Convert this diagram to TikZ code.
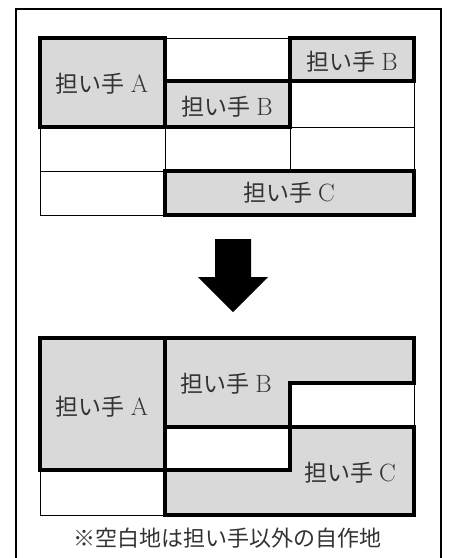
\documentclass[tikz,border=0pt]{standalone}
\usepackage{fontspec}
\newfontfamily\cjk{Noto Sans CJK JP}
\newcommand{\lab}[1]{{\cjk\fontsize{23}{26}\selectfont 担い手}\hspace{6pt}{\fontsize{25}{26}\selectfont #1}}
\begin{document}
\begin{tikzpicture}[x=1pt,y=-1pt,
  thinline/.style={draw=black,line width=1pt},
  thickline/.style={draw=black,line width=3.3pt,line join=miter},
  plot/.style={fill=gray!30},
  lbl/.style={text=black!80, inner sep=0pt},
  note/.style={font=\cjk\fontsize{22}{24}\selectfont, text=black!80, inner sep=0pt}]
\useasboundingbox (0,0) rectangle (449,558);
% frame
\draw[line width=1.3pt] (16,562) -- (16,9) -- (441,9) -- (441,562);
% ---------- top grid ----------
\draw[thinline] (165,38) rectangle (290,81);
\draw[thinline] (290,81) rectangle (414,127);
\draw[thinline] (40,127) rectangle (165,171);
\draw[thinline] (165,127) rectangle (290,171);
\draw[thinline] (290,127) rectangle (414,171);
\draw[thinline] (40,171) rectangle (165,215);
\path[plot] (40,38) rectangle (165,127);
\path[plot] (290,38) rectangle (414,81);
\path[plot] (165,81) rectangle (290,127);
\path[plot] (165,171) rectangle (414,215);
\draw[thickline] (40,38) rectangle (165,127);
\draw[thickline] (290,38) rectangle (414,81);
\draw[thickline] (165,81) rectangle (290,127);
\draw[thickline] (165,171) rectangle (414,215);
\node[lbl] (tA) at (102,84) {\lab{A}};
\node[lbl] (tB1) at (352,62) {\lab{B}};
\node[lbl] (tB2) at (227,107) {\lab{B}};
\node[lbl] (tC) at (289,193) {\lab{C}};
% ---------- arrow ----------
\fill[black] (215,239) -- (251,239) -- (251,277) -- (268,277) -- (233,312) -- (198,277) -- (215,277) -- cycle;
% ---------- bottom grid ----------
\draw[thinline] (40,470) rectangle (165,515);
\draw[thinline] (290,383) rectangle (414,427);
\path[plot] (40,338) rectangle (165,470);
\path[plot] (165,338) -- (414,338) -- (414,383) -- (290,383) -- (290,427) -- (165,427) -- cycle;
\path[plot] (290,427) -- (414,427) -- (414,515) -- (165,515) -- (165,470) -- (290,470) -- cycle;
\draw[thickline] (40,338) rectangle (165,470);
\draw[thickline] (165,338) -- (414,338) -- (414,383) -- (290,383) -- (290,427) -- (165,427) -- cycle;
\draw[thickline] (290,427) -- (414,427) -- (414,515) -- (165,515) -- (165,470) -- (290,470) -- cycle;
\node[lbl] (bA) at (102,407) {\lab{A}};
\node[lbl] (bB) at (226,384) {\lab{B}};
\node[lbl] (bC) at (350,473) {\lab{C}};
\node[note] (nt) at (228,538) {※空白地は担い手以外の自作地};
\end{tikzpicture}
\end{document}
